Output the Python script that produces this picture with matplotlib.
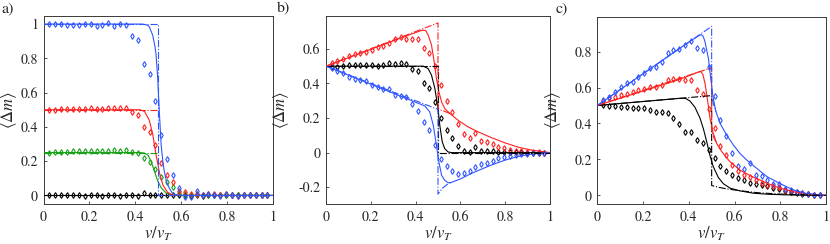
import matplotlib
matplotlib.use("Agg")
import matplotlib.pyplot as plt

plt.rcParams['mathtext.fontset'] = 'stix'
plt.rcParams['font.family'] = ['STIXGeneral', 'Liberation Serif', 'DejaVu Serif']

# ---------------- data ----------------
v = [0.026, 0.051, 0.077, 0.103, 0.128, 0.154, 0.179, 0.205, 0.231, 0.256,
     0.282, 0.308, 0.333, 0.359, 0.385, 0.410, 0.436, 0.462, 0.487, 0.513,
     0.538, 0.564, 0.590, 0.615, 0.641, 0.667, 0.692, 0.718, 0.744, 0.769,
     0.795, 0.821, 0.846, 0.872, 0.897, 0.923, 0.949, 0.974]

# panel a markers
a_blue = [1.0, 1.0, 1.0, 0.996, 0.996, 0.996, 1.0, 1.002, 0.986, 0.992,
          1.006, 0.986, 0.998, 0.992, 0.932, 0.907, 0.765, 0.706, 0.55, 0.35,
          0.212, 0.119, 0.042, -0.01, -0.012, 0.025, 0.002, 0.006, 0.004, -0.004,
          0.006, 0.0, -0.002, 0.002, 0.0, 0.002, 0.0, 0.0]
a_red = [0.5, 0.5, 0.502, 0.502, 0.502, 0.504, 0.506, 0.508, 0.504, 0.502,
         0.512, 0.508, 0.51, 0.508, 0.488, 0.469, 0.40, 0.372, 0.294, 0.19,
         0.12, 0.08, 0.025, 0.02, 0.008, 0.01, 0.004, 0.01, 0.008, 0.002,
         0.006, 0.004, -0.004, 0.002, 0.0, 0.002, 0.0, 0.0]
a_green = [0.25, 0.252, 0.255, 0.255, 0.258, 0.258, 0.26, 0.26, 0.26, 0.262,
           0.262, 0.265, 0.262, 0.267, 0.251, 0.245, 0.216, 0.196, 0.156, 0.109,
           0.08, 0.05, 0.015, 0.008, 0.004, 0.006, 0.0, 0.004, 0.002, 0.0,
           0.002, 0.0, 0.0, 0.0, 0.0, 0.0, 0.0, 0.0]
a_black = [0.0, 0.002, 0.0, 0.0, 0.002, 0.0, -0.004, 0.002, 0.0, -0.002,
           0.004, 0.0, -0.004, 0.0, 0.002, -0.002, 0.012, 0.004, 0.002, 0.0,
           0.0, 0.002, 0.0, 0.004, -0.002, 0.002, -0.004, 0.0, 0.002, 0.0,
           0.0, 0.002, 0.0, 0.0, 0.0, 0.0, 0.0, 0.0]

# panel b markers
b_red = [0.517, 0.531, 0.544, 0.556, 0.569, 0.575, 0.581, 0.595, 0.608, 0.614,
         0.633, 0.656, 0.666, 0.656, 0.658, 0.658, 0.605, 0.574, 0.503, 0.39,
         0.296, 0.234, 0.165, 0.109, 0.087, 0.116, 0.07, 0.06, 0.048, 0.035,
         0.029, 0.017, 0.012, 0.008, 0.006, 0.003, 0.002, 0.0]
b_black = [0.498, 0.498, 0.502, 0.508, 0.508, 0.508, 0.508, 0.508, 0.502, 0.508,
           0.517, 0.512, 0.517, 0.514, 0.483, 0.471, 0.405, 0.372, 0.292, 0.198,
           0.131, 0.082, 0.036, 0.009, 0.005, 0.032, 0.01, 0.008, 0.008, 0.006,
           0.006, 0.004, 0.002, 0.002, 0.0, 0.0, 0.0, 0.0]
b_blue = [0.488, 0.473, 0.459, 0.44, 0.425, 0.421, 0.417, 0.392, 0.382, 0.369,
          0.369, 0.334, 0.330, 0.320, 0.283, 0.243, 0.175, 0.13, 0.047, -0.035,
          -0.077, -0.109, -0.121, -0.119, -0.104, -0.085, -0.068, -0.058, -0.046, -0.033,
          -0.023, -0.017, -0.014, -0.008, -0.006, -0.004, -0.002, 0.0]

# panel c markers
c_blue = [0.53, 0.545, 0.577, 0.601, 0.627, 0.633, 0.66, 0.679, 0.707, 0.716,
          0.74, 0.79, 0.81, 0.812, 0.835, 0.856, 0.817, 0.807, 0.716, 0.553,
          0.421, 0.33, 0.233, 0.166, 0.145, 0.181, 0.112, 0.108, 0.084, 0.061,
          0.061, 0.037, 0.028, 0.019, 0.013, 0.007, 0.002, 0.0]
c_red = [0.527, 0.54, 0.545, 0.558, 0.564, 0.577, 0.586, 0.592, 0.601, 0.605,
         0.614, 0.642, 0.647, 0.649, 0.641, 0.641, 0.584, 0.562, 0.478, 0.372,
         0.276, 0.224, 0.169, 0.135, 0.113, 0.104, 0.085, 0.07, 0.06, 0.05,
         0.045, 0.032, 0.025, 0.018, 0.012, 0.008, 0.004, 0.002]
c_black = [0.502, 0.499, 0.499, 0.493, 0.493, 0.484, 0.487, 0.487, 0.474, 0.465,
           0.461, 0.456, 0.428, 0.398, 0.355, 0.352, 0.307, 0.289, 0.252, 0.206,
           0.165, 0.135, 0.113, 0.094, 0.085, 0.067, 0.065, 0.06, 0.05, 0.042,
           0.035, 0.027, 0.019, 0.013, 0.009, 0.005, 0.002, 0.001]

# theory curves (solid) and step models (dash-dot)
a_blue_sx = [0, 0.43, 0.45, 0.46, 0.475, 0.485, 0.49, 0.497, 0.504, 0.512, 0.52, 0.526, 0.535, 0.548, 0.56, 0.57, 0.6, 1.0]
a_blue_sy = [1, 1, 0.995, 0.985, 0.936, 0.87, 0.819, 0.683, 0.488, 0.294, 0.19, 0.138, 0.08, 0.041, 0.015, 0.006, 0, 0]
a_red_sx = [0, 0.42, 0.44, 0.46, 0.475, 0.49, 0.505, 0.52, 0.54, 0.56, 0.6, 1.0]
a_red_sy = [0.5, 0.5, 0.49, 0.44, 0.36, 0.235, 0.13, 0.06, 0.018, 0.004, 0, 0]
a_green_sx = [0, 0.42, 0.44, 0.455, 0.468, 0.483, 0.497, 0.512, 0.533, 0.555, 0.6, 1.0]
a_green_sy = [0.25, 0.25, 0.247, 0.235, 0.2, 0.14, 0.085, 0.045, 0.015, 0.004, 0, 0]
a_black_sx = [0, 1.0]
a_black_sy = [0, 0]
a_blue_dx = [0, 0.5, 0.5, 1.0]
a_blue_dy = [1, 1, 0, 0]
a_red_dx = [0, 0.5]
a_red_dy = [0.5, 0.5]
a_green_dx = [0, 0.5]
a_green_dy = [0.25, 0.25]

b_red_sx = [0, 0.38, 0.43, 0.445, 0.456, 0.471, 0.483, 0.493, 0.504, 0.516, 0.53, 0.553, 0.59, 0.634, 0.679, 0.738, 0.8, 0.86, 0.92, 1.0]
b_red_sy = [0.5, 0.685, 0.708, 0.706, 0.68, 0.622, 0.525, 0.429, 0.351, 0.293, 0.255, 0.226, 0.187, 0.149, 0.12, 0.087, 0.056, 0.031, 0.014, 0.0]
b_red_dx = [0, 0.5, 0.5, 0.52, 0.54, 0.553]
b_red_dy = [0.5, 0.75, 0.25, 0.244, 0.233, 0.226]
b_black_sx = [0, 0.434, 0.456, 0.471, 0.486, 0.498, 0.508, 0.519, 0.53, 0.545, 0.56, 1.0]
b_black_sy = [0.5, 0.5, 0.486, 0.448, 0.371, 0.274, 0.158, 0.062, 0.023, 0.004, 0, 0]
b_black_dx = [0, 0.5, 0.5, 1.0]
b_black_dy = [0.5, 0.5, 0, 0]
b_blue_sx = [0, 0.441, 0.463, 0.479, 0.493, 0.504, 0.516, 0.53, 0.545, 0.56, 0.6, 0.65, 0.7, 0.75, 0.8, 0.85, 0.9, 0.95, 1.0]
b_blue_sy = [0.5, 0.27, 0.236, 0.158, 0.042, -0.054, -0.131, -0.16, -0.174, -0.172, -0.152, -0.12, -0.092, -0.066, -0.043, -0.025, -0.012, -0.004, 0.0]
b_blue_dx = [0, 0.5, 0.5, 0.52, 0.54, 0.56]
b_blue_dy = [0.5, 0.25, -0.24, -0.205, -0.185, -0.172]

c_blue_sx = [0, 0.36, 0.44, 0.455, 0.463, 0.471, 0.486, 0.496, 0.507, 0.519, 0.537, 0.566, 0.595, 0.624, 0.654, 0.683, 0.712, 0.741, 0.8, 0.858, 0.916, 1.0]
c_blue_sy = [0.5, 0.818, 0.886, 0.894, 0.885, 0.854, 0.761, 0.65, 0.539, 0.465, 0.4, 0.335, 0.28, 0.233, 0.196, 0.165, 0.135, 0.105, 0.065, 0.03, 0.01, 0.0]
c_blue_dx = [0, 0.5, 0.5, 0.51, 0.519]
c_blue_dy = [0.5, 0.94, 0.55, 0.5, 0.465]
c_red_sx = [0, 0.36, 0.44, 0.452, 0.462, 0.471, 0.481, 0.493, 0.505, 0.522, 0.544, 0.58, 0.624, 0.668, 0.712, 0.76, 0.8, 0.86, 0.92, 1.0]
c_red_sy = [0.5, 0.645, 0.685, 0.69, 0.672, 0.622, 0.539, 0.428, 0.354, 0.289, 0.243, 0.187, 0.141, 0.11, 0.085, 0.058, 0.04, 0.02, 0.008, 0.0]
c_red_dx = [0, 0.5, 0.5, 0.51, 0.522]
c_red_dy = [0.5, 0.71, 0.36, 0.32, 0.289]
c_black_sx = [0, 0.36, 0.385, 0.405, 0.427, 0.449, 0.464, 0.479, 0.493, 0.507, 0.529, 0.551, 0.581, 0.624, 0.683, 0.75, 0.85, 1.0]
c_black_sy = [0.5, 0.54, 0.54, 0.525, 0.49, 0.43, 0.37, 0.295, 0.22, 0.16, 0.1, 0.065, 0.04, 0.025, 0.012, 0.006, 0.002, 0.0]
c_black_dx = [0, 0.5, 0.5, 0.53, 0.566, 0.6, 0.65, 0.7, 0.8, 0.9, 1.0]
c_black_dy = [0.5, 0.555, 0.055, 0.045, 0.036, 0.03, 0.022, 0.015, 0.007, 0.003, 0.0]

x_ticks = [0, 0.2, 0.4, 0.6, 0.8, 1]
x_ticklabels = ['0', '0.2', '0.4', '0.6', '0.8', '1']
a_yticks = [0, 0.2, 0.4, 0.6, 0.8, 1]
a_yticklabels = ['0', '0.2', '0.4', '0.6', '0.8', '1']
b_yticks = [-0.2, 0, 0.2, 0.4, 0.6]
b_yticklabels = ['-0.2', '0', '0.2', '0.4', '0.6']
c_yticks = [0, 0.2, 0.4, 0.6, 0.8]
c_yticklabels = ['0', '0.2', '0.4', '0.6', '0.8']

BLUE = '#2f55ff'
RED = '#ff1f1f'
GREEN = '#16a016'
BLACK = '#000000'
AXC = '#3a3a3a'

W, H = 830, 244
fig = plt.figure(figsize=(W / 100, H / 100), dpi=100)


def make_ax(l, r, t, b):
    return fig.add_axes([l / W, 1 - b / H, (r - l) / W, (b - t) / H])


ax_a = make_ax(43.5, 273.3, 15.5, 204)
ax_b = make_ax(326, 550, 16, 204)
ax_c = make_ax(597.3, 826, 16.5, 204)

LW = 0.8
MS = 2.9
MEW = 0.8


def markers(ax, y, color):
    ax.plot(v, y, linestyle='none', marker='d', ms=MS, mew=MEW,
            mfc='none', mec=color, zorder=3)


def solid(ax, x, y, color):
    ax.plot(x, y, '-', color=color, lw=LW, zorder=4)


def dashdot(ax, x, y, color):
    ax.plot(x, y, '-.', color=color, lw=LW, zorder=5)


# panel a
solid(ax_a, a_black_sx, a_black_sy, BLACK)
for yv, c in [(a_black, BLACK), (a_green, GREEN), (a_red, RED), (a_blue, BLUE)]:
    markers(ax_a, yv, c)
solid(ax_a, a_green_sx, a_green_sy, GREEN)
solid(ax_a, a_red_sx, a_red_sy, RED)
solid(ax_a, a_blue_sx, a_blue_sy, BLUE)
dashdot(ax_a, a_green_dx, a_green_dy, GREEN)
dashdot(ax_a, a_red_dx, a_red_dy, RED)
dashdot(ax_a, a_blue_dx, a_blue_dy, BLUE)

# panel b
for yv, c in [(b_black, BLACK), (b_red, RED), (b_blue, BLUE)]:
    markers(ax_b, yv, c)
solid(ax_b, b_black_sx, b_black_sy, BLACK)
solid(ax_b, b_red_sx, b_red_sy, RED)
solid(ax_b, b_blue_sx, b_blue_sy, BLUE)
dashdot(ax_b, b_black_dx, b_black_dy, BLACK)
dashdot(ax_b, b_red_dx, b_red_dy, RED)
dashdot(ax_b, b_blue_dx, b_blue_dy, BLUE)

# panel c
for yv, c in [(c_black, BLACK), (c_red, RED), (c_blue, BLUE)]:
    markers(ax_c, yv, c)
solid(ax_c, c_black_sx, c_black_sy, BLACK)
solid(ax_c, c_red_sx, c_red_sy, RED)
solid(ax_c, c_blue_sx, c_blue_sy, BLUE)
dashdot(ax_c, c_black_dx, c_black_dy, BLACK)
dashdot(ax_c, c_red_dx, c_red_dy, RED)
dashdot(ax_c, c_blue_dx, c_blue_dy, BLUE)

setups = [
    (ax_a, (-0.05, 1.05), a_yticks, a_yticklabels, -0.106, 'a)', 1),
    (ax_b, (-0.155, 0.79) if False else (-0.297, 0.79), b_yticks, b_yticklabels, -0.155, 'b)', 277),
    (ax_c, (-0.048, 0.995), c_yticks, c_yticklabels, -0.152, 'c)', 556),
]
for ax, ylim, yt, ytl, ylx, lab, lx in setups:
    ax.set_xlim(0, 1)
    ax.set_ylim(*ylim)
    ax.set_xticks(x_ticks)
    ax.set_xticklabels(x_ticklabels)
    ax.set_yticks(yt)
    ax.set_yticklabels(ytl)
    ax.tick_params(direction='in', length=2.2, width=0.6, colors=AXC,
                   labelsize=10, labelcolor='#262626')
    ax.tick_params(axis='x', pad=4.5)
    ax.tick_params(axis='y', pad=4)
    for s in ax.spines.values():
        s.set_color(AXC)
        s.set_linewidth(0.7)
    ax.set_ylabel(r'$\langle\Delta m\rangle$', fontsize=12, color='#262626')
    ax.yaxis.set_label_coords(ylx, 0.5)
    ax.set_xlabel(r'$v/v_T$', fontsize=12, color='#262626')
    ax.xaxis.set_label_coords(0.5, -0.207)
    ax.xaxis.label.set_va('bottom')
    fig.text(lx / W, 1 - 2 / H, lab, fontsize=11.5, va='top', ha='left',
             color='#262626')

fig.savefig('out.png', dpi=100)
